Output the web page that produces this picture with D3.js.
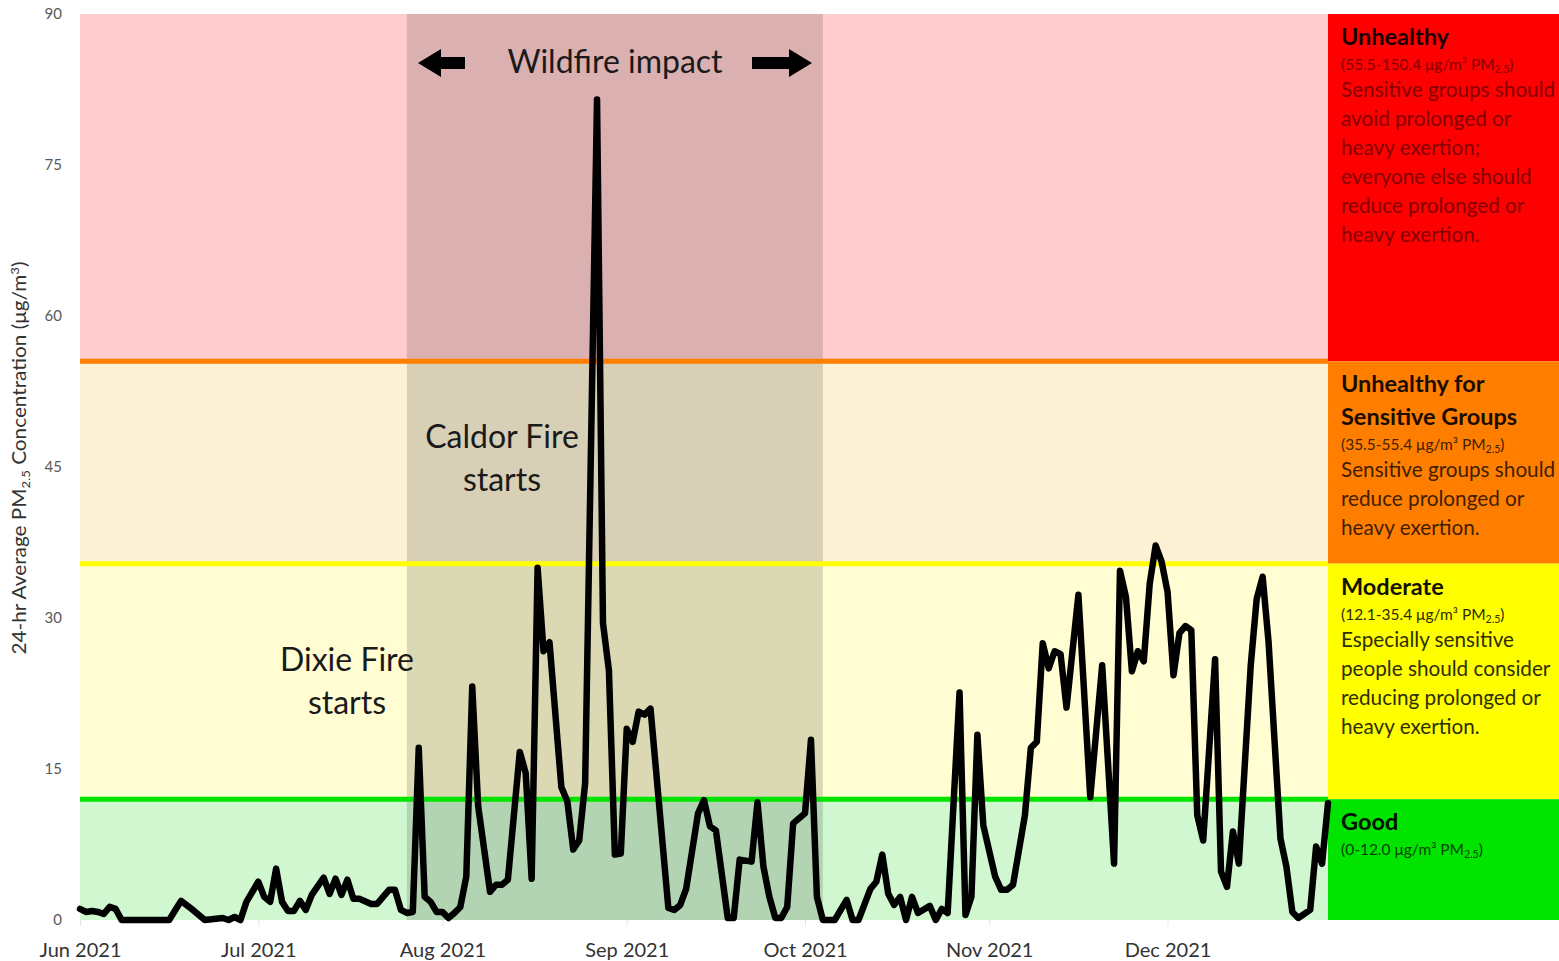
<!DOCTYPE html>
<html><head><meta charset="utf-8">
<script src="https://cdn.jsdelivr.net/npm/d3@7"></script>
<style>
html,body{margin:0;padding:0;background:#fff;}
svg{display:block;font-family:Lato, "Open Sans", sans-serif;}
</style></head>
<body><svg id="chart" width="1559" height="961"></svg>
<script>
// ---- data ----
const dates = ["2021-06-01","2021-06-02","2021-06-03","2021-06-04","2021-06-05","2021-06-06","2021-06-07","2021-06-08",
"2021-06-16","2021-06-18","2021-06-20","2021-06-22","2021-06-25","2021-06-26","2021-06-27","2021-06-28","2021-06-29",
"2021-07-01","2021-07-02","2021-07-03","2021-07-04","2021-07-05","2021-07-06","2021-07-07","2021-07-08","2021-07-09","2021-07-10",
"2021-07-12","2021-07-13","2021-07-14","2021-07-15","2021-07-16","2021-07-17","2021-07-18","2021-07-20","2021-07-21",
"2021-07-23","2021-07-24","2021-07-25","2021-07-26","2021-07-27","2021-07-28","2021-07-29","2021-07-30","2021-07-31",
"2021-08-01","2021-08-02","2021-08-03","2021-08-04","2021-08-05","2021-08-06","2021-08-07","2021-08-09","2021-08-10","2021-08-11","2021-08-12",
"2021-08-14","2021-08-15","2021-08-16","2021-08-17","2021-08-18","2021-08-19","2021-08-21","2021-08-22","2021-08-23","2021-08-24","2021-08-25",
"2021-08-27","2021-08-28","2021-08-29","2021-08-30","2021-08-31",
"2021-09-01","2021-09-02","2021-09-03","2021-09-04","2021-09-05","2021-09-08","2021-09-09","2021-09-10","2021-09-11",
"2021-09-13","2021-09-14","2021-09-15","2021-09-16","2021-09-18","2021-09-19","2021-09-20","2021-09-22","2021-09-23",
"2021-09-24","2021-09-25","2021-09-26","2021-09-27","2021-09-28","2021-09-29",
"2021-10-01","2021-10-02","2021-10-03","2021-10-04","2021-10-06","2021-10-08","2021-10-09","2021-10-10","2021-10-12","2021-10-13",
"2021-10-14","2021-10-15","2021-10-16","2021-10-17","2021-10-18","2021-10-19","2021-10-20","2021-10-22","2021-10-23","2021-10-24","2021-10-25",
"2021-10-27","2021-10-28","2021-10-29","2021-10-30","2021-10-31",
"2021-11-02","2021-11-03","2021-11-04","2021-11-05","2021-11-07","2021-11-08","2021-11-09","2021-11-10","2021-11-11","2021-11-12",
"2021-11-13","2021-11-14","2021-11-16","2021-11-18","2021-11-20","2021-11-22","2021-11-23","2021-11-24","2021-11-25","2021-11-26",
"2021-11-27","2021-11-28","2021-11-29","2021-11-30",
"2021-12-01","2021-12-02","2021-12-03","2021-12-04","2021-12-05","2021-12-06","2021-12-07","2021-12-09","2021-12-10","2021-12-11",
"2021-12-12","2021-12-13","2021-12-15","2021-12-16","2021-12-17","2021-12-18","2021-12-20","2021-12-21","2021-12-22","2021-12-23",
"2021-12-25","2021-12-26","2021-12-27","2021-12-28"];
const pm25 = [1.1,0.8,0.9,0.8,0.6,1.3,1.1,0,
0,1.9,1.0,0,0.2,0,0.3,0,1.8,
3.8,2.3,1.8,5.1,1.8,0.9,0.9,1.9,1.0,2.5,
4.2,2.6,4.1,2.5,4.0,2.1,2.1,1.6,1.6,
3.0,3.0,1.0,0.7,0.8,17.1,2.3,1.8,0.8,
0.8,0.2,0.7,1.3,4.3,23.2,11.3,2.8,3.5,3.5,4.0,
16.7,14.6,4.1,35.0,26.7,27.6,13.2,11.8,7.0,7.9,13.6,
81.5,29.5,24.8,6.5,6.6,
19.0,17.7,20.7,20.4,21.0,1.2,1.0,1.5,3.1,
10.6,11.9,9.3,8.9,0.2,0.2,6.0,5.8,11.7,
5.3,2.3,0.2,0.2,1.3,9.6,
10.6,17.9,2.3,0,0,2.0,0,0,3.1,3.8,
6.5,2.6,1.5,2.3,0,2.3,0.7,1.4,0,1.1,0.7,
22.6,0.5,2.3,18.4,9.4,
4.3,3.0,3.0,3.5,10.4,17.1,17.7,27.5,25.0,26.7,
26.4,21.1,32.3,12.2,25.3,5.6,34.7,32.1,24.7,26.7,
25.7,33.4,37.2,35.6,
32.6,24.3,28.5,29.2,28.8,10.4,7.9,25.9,4.8,3.3,
8.8,5.6,25.3,31.9,34.1,27.6,8.1,5.3,0.8,0.2,
1.0,7.3,5.6,11.6];

const yTicks = [0,15,30,45,60,75,90];
const dateRange = ["2021-06-01","2021-12-28"];
const wildfirePeriod = ["2021-07-26","2021-10-04"];

const categoryNames = ["Unhealthy","Unhealthy for Sensitive Groups","Moderate","Good"];
const categoryLow  = [55.5, 35.4, 12.0, 0];
const categoryHigh = [90, 55.5, 35.4, 12.0];
const categoryRanges = ["(55.5-150.4 μg/m³ PM","(35.5-55.4 μg/m³ PM","(12.1-35.4 μg/m³ PM","(0-12.0 μg/m³ PM"];
const titleLines = [["Unhealthy"],["Unhealthy for","Sensitive Groups"],["Moderate"],["Good"]];
const bodyLines = [
 ["Sensitive groups should","avoid prolonged or","heavy exertion;","everyone else should","reduce prolonged or","heavy exertion."],
 ["Sensitive groups should","reduce prolonged or","heavy exertion."],
 ["Especially sensitive","people should consider","reducing prolonged or","heavy exertion."],
 []];
const thresholds = [55.5, 35.4, 12.0];

// ---- styles ----
const bandFill   = ["#FFCDCD","#FCF1D5","#FFFDD1","#D1F7D1"];
const panelFill  = ["#FF0000","#FF7E00","#FFFF00","#00E400"];
const lineColors = ["#FF7E00","#FFFF00","#00E400"];
const titleFill  = ["#1a0000","#1a0d00","#111100","#001200"];
const bodyFill   = ["#840000","#3f1f00","#2e2e00","#004400"];

const svg = d3.select("#chart");
const parse = d3.timeParse("%Y-%m-%d");
const L = 80, R = 1328, T = 14, B = 920;
const x = d3.scaleTime().domain(dateRange.map(parse)).range([L, R]);
const y = d3.scaleLinear().domain([0, 90]).range([B, T]);
const data = dates.map((d,i)=>({date:parse(d), v:pm25[i]}));

// bands
svg.selectAll("rect.band").data(categoryNames).join("rect")
  .attr("x", L).attr("width", R-L)
  .attr("y", (d,i)=>y(categoryHigh[i])).attr("height",(d,i)=>y(categoryLow[i])-y(categoryHigh[i]))
  .attr("fill",(d,i)=>bandFill[i]);

// wildfire shading
svg.append("rect")
  .attr("x", x(parse(wildfirePeriod[0]))).attr("width", x(parse(wildfirePeriod[1]))-x(parse(wildfirePeriod[0])))
  .attr("y", T).attr("height", B-T).attr("fill","#000").attr("opacity",0.14);

// legend panels
svg.selectAll("rect.panel").data(categoryNames).join("rect")
  .attr("x", R).attr("width", 1559-R)
  .attr("y", (d,i)=>y(categoryHigh[i])).attr("height",(d,i)=>y(categoryLow[i])-y(categoryHigh[i]))
  .attr("fill",(d,i)=>panelFill[i]);

// threshold lines
svg.selectAll("line.thr").data(thresholds).join("line")
  .attr("x1", L).attr("x2", R).attr("y1", d=>y(d)).attr("y2", d=>y(d))
  .attr("stroke",(d,i)=>lineColors[i]).attr("stroke-width",5);

// axes
const yAxis = svg.append("g").attr("transform",`translate(${L},0)`)
  .call(d3.axisLeft(y).tickValues(yTicks).tickSize(0).tickPadding(18));
yAxis.select(".domain").remove();
yAxis.selectAll("text").attr("font-family","Lato, sans-serif").attr("font-size",15).attr("fill","#595959");

const xAxis = svg.append("g").attr("transform",`translate(0,${B})`)
  .call(d3.axisBottom(x).ticks(d3.timeMonth.every(1)).tickFormat(d3.timeFormat("%b %Y")).tickSize(6).tickPadding(17));
xAxis.select(".domain").remove();
xAxis.selectAll("line").attr("stroke","#e6e6e6");
xAxis.selectAll("text").attr("font-family","Lato, sans-serif").attr("font-size",20).attr("fill","#333");

// y title
const yt = svg.append("text").attr("transform","translate(26,458) rotate(-90)")
  .attr("text-anchor","middle").attr("font-size",19).attr("fill","#333")
  .attr("textLength",393).attr("lengthAdjust","spacingAndGlyphs");
yt.append("tspan").text("24-hr Average PM");
yt.append("tspan").attr("font-size",12).attr("dy",4).text("2.5");
yt.append("tspan").attr("dy",-4).text(" Concentration (μg/m");
yt.append("tspan").attr("font-size",12).attr("dy",-7).text("3");
yt.append("tspan").attr("dy",7).text(")");

// data line
svg.append("path").datum(data)
  .attr("d", d3.line().x(d=>x(d.date)).y(d=>y(d.v)))
  .attr("fill","none").attr("stroke","#000").attr("stroke-width",6.5)
  .attr("stroke-linejoin","round").attr("stroke-linecap","round");

// annotations
const ann = svg.append("g").attr("font-size",32).attr("fill","#1a1a1a").attr("text-anchor","middle");
ann.append("text").attr("x",615).attr("y",73).text("Wildfire impact");
ann.append("text").attr("x",502).attr("y",448).text("Caldor Fire");
ann.append("text").attr("x",502).attr("y",491).text("starts");
ann.append("text").attr("x",347).attr("y",671).text("Dixie Fire");
ann.append("text").attr("x",347).attr("y",714).text("starts");

// arrows
const ay = 63;
svg.append("path").attr("fill","#000")
  .attr("d",`M418,${ay} L441,${ay-14} L441,${ay-6} L465,${ay-6} L465,${ay+6} L441,${ay+6} L441,${ay+14} Z`);
svg.append("path").attr("fill","#000")
  .attr("d",`M812,${ay} L789,${ay-14} L789,${ay-6} L752,${ay-6} L752,${ay+6} L789,${ay+6} L789,${ay+14} Z`);

// legend text
const lx = 1341;
categoryNames.forEach((name,i)=>{
  const top = y(categoryHigh[i]);
  const g = svg.append("g");
  let yy = top + 31;
  titleLines[i].forEach((t,k)=>{
    g.append("text").attr("x",lx).attr("y",yy).attr("font-size",23.5).attr("font-weight","bold")
      .attr("fill",titleFill[i]).text(t);
    yy += 33;
  });
  yy -= 8;
  const r = g.append("text").attr("x",lx).attr("y",yy).attr("font-size",15.5).attr("fill",bodyFill[i]);
  r.append("tspan").text(categoryRanges[i]);
  r.append("tspan").attr("font-size",10.5).attr("dy",3).text("2.5");
  r.append("tspan").attr("dy",-3).text(")");
  yy += 27;
  bodyLines[i].forEach(t=>{
    g.append("text").attr("x",lx).attr("y",yy).attr("font-size",20.7).attr("fill",bodyFill[i]).text(t);
    yy += 29;
  });
});
</script></body></html>
